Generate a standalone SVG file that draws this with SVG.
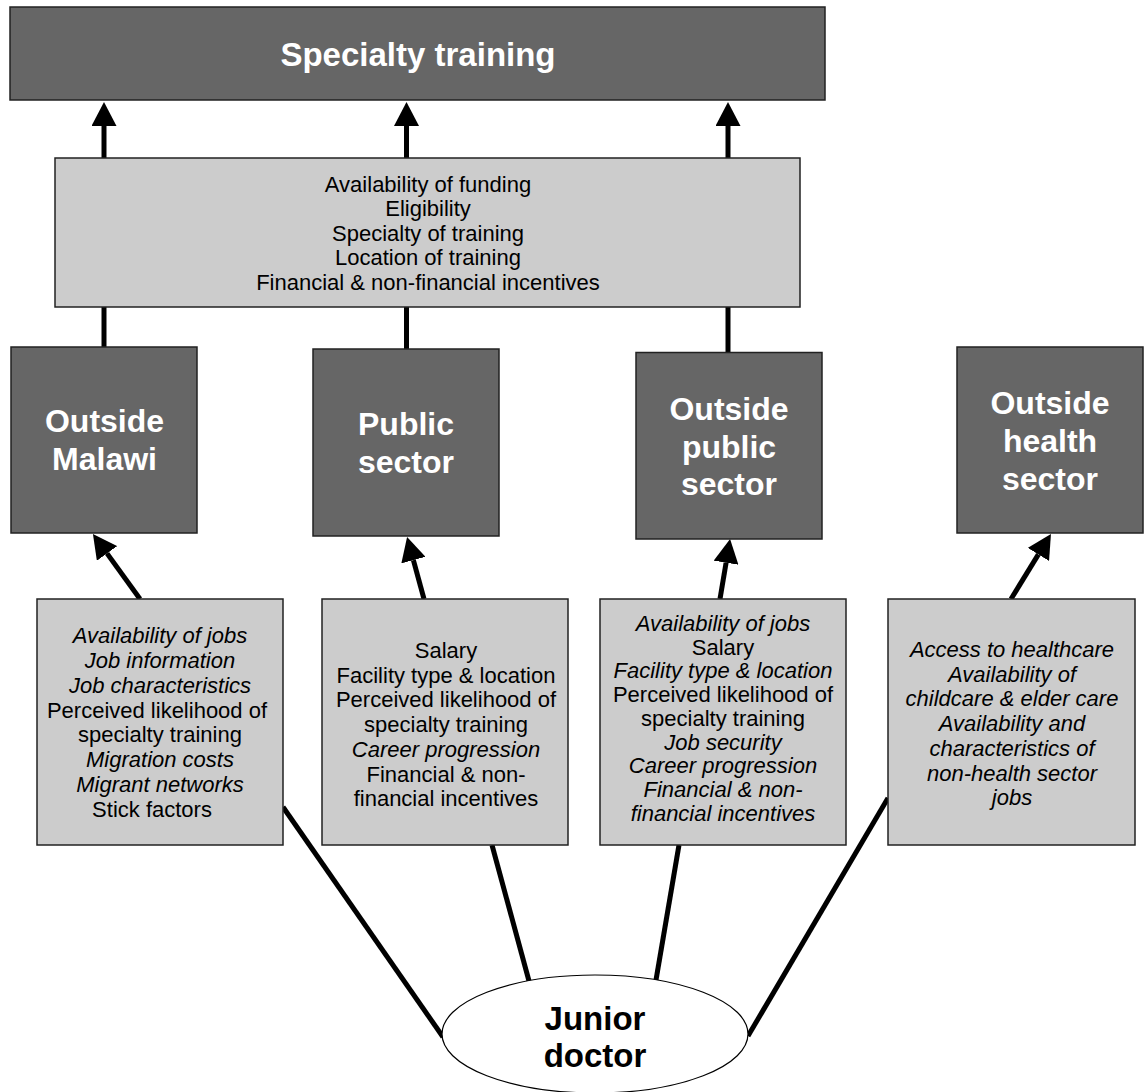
<svg xmlns="http://www.w3.org/2000/svg" width="1144" height="1092" viewBox="0 0 1144 1092">
  <style>
    .dark { fill: #666666; stroke: #222222; stroke-width: 1.5; }
    .light { fill: #cccccc; stroke: #222222; stroke-width: 1.5; }
    .oval { fill: #ffffff; stroke: #000000; stroke-width: 1.2; }
    .head { font-family: "Liberation Sans", Arial, sans-serif; font-weight: bold; font-size: 32px; fill: #ffffff; text-anchor: middle; }
    .title { font-family: "Liberation Sans", Arial, sans-serif; font-weight: bold; font-size: 33px; fill: #ffffff; text-anchor: middle; }
    .root { font-family: "Liberation Sans", Arial, sans-serif; font-weight: bold; font-size: 33px; fill: #000000; text-anchor: middle; }
    .body { font-family: "Liberation Sans", Arial, sans-serif; font-size: 22px; fill: #000000; text-anchor: middle; }
    .it { font-style: italic; }
    .wire { stroke: #000000; stroke-width: 5; fill: none; }
  </style>
  <defs>
    <marker id="tip" markerUnits="userSpaceOnUse" viewBox="0 0 24 25" markerWidth="24" markerHeight="25" refX="0" refY="12.5" orient="auto">
      <path d="M0,0 L24,12.5 L0,25 Z" fill="#000000"/>
    </marker>
  </defs>

  <!-- connectors -->
  <g id="connectors">
    <!-- factor box to specialty training -->
    <line class="wire" x1="104" y1="158" x2="104" y2="126" marker-end="url(#tip)"/>
    <line class="wire" x1="406.5" y1="158" x2="406.5" y2="126" marker-end="url(#tip)"/>
    <line class="wire" x1="728" y1="158" x2="728" y2="126" marker-end="url(#tip)"/>
    <!-- destinations to factor box -->
    <line class="wire" x1="104" y1="307" x2="104" y2="347"/>
    <line class="wire" x1="406.5" y1="307" x2="406.5" y2="349"/>
    <line class="wire" x1="728" y1="307" x2="728" y2="352"/>
    <!-- determinant boxes to destinations -->
    <line class="wire" x1="140" y1="599" x2="107" y2="553.4" marker-end="url(#tip)"/>
    <line class="wire" x1="424" y1="599" x2="413.4" y2="560.1" marker-end="url(#tip)"/>
    <line class="wire" x1="720" y1="599" x2="726.1" y2="562.7" marker-end="url(#tip)"/>
    <line class="wire" x1="1011" y1="599" x2="1038.4" y2="554.4" marker-end="url(#tip)"/>
    <!-- junior doctor to determinant boxes -->
    <line class="wire" x1="443" y1="1037" x2="283" y2="807"/>
    <line class="wire" x1="529" y1="981" x2="492" y2="845"/>
    <line class="wire" x1="656" y1="980" x2="679" y2="845"/>
    <line class="wire" x1="748" y1="1036" x2="888" y2="798"/>
  </g>

  <g id="specialty-training">
    <rect class="dark" x="10" y="7" width="815" height="93"/>
    <text class="title" x="418" y="66">Specialty training</text>
  </g>

  <g id="training-factors">
    <rect class="light" x="55" y="158" width="745" height="149"/>
    <text class="body" x="428" y="191.5">Availability of funding</text>
    <text class="body" x="428" y="216">Eligibility</text>
    <text class="body" x="428" y="240.5">Specialty of training</text>
    <text class="body" x="428" y="265">Location of training</text>
    <text class="body" x="428" y="289.5">Financial &amp; non-financial incentives</text>
  </g>

  <g id="outside-malawi">
    <rect class="dark" x="11" y="347" width="186" height="186"/>
    <text class="head" x="104.5" y="432">Outside</text>
    <text class="head" x="104.5" y="470">Malawi</text>
  </g>

  <g id="public-sector">
    <rect class="dark" x="313" y="349" width="186" height="187"/>
    <text class="head" x="406" y="435">Public</text>
    <text class="head" x="406" y="473">sector</text>
  </g>

  <g id="outside-public-sector">
    <rect class="dark" x="636" y="352.5" width="186" height="186.5"/>
    <text class="head" x="729" y="420">Outside</text>
    <text class="head" x="729" y="458">public</text>
    <text class="head" x="729" y="495">sector</text>
  </g>

  <g id="outside-health-sector">
    <rect class="dark" x="957" y="347" width="186" height="186"/>
    <text class="head" x="1050" y="414">Outside</text>
    <text class="head" x="1050" y="452">health</text>
    <text class="head" x="1050" y="490">sector</text>
  </g>

  <g id="factors-outside-malawi">
    <rect class="light" x="37" y="599" width="246" height="246"/>
    <text class="body it" x="160" y="643">Availability of jobs</text>
    <text class="body it" x="160" y="667.9">Job information</text>
    <text class="body it" x="160" y="692.7">Job characteristics</text>
    <text class="body" x="157" y="717.6">Perceived likelihood of</text>
    <text class="body" x="160" y="742.4">specialty training</text>
    <text class="body it" x="160" y="767.3">Migration costs</text>
    <text class="body it" x="160" y="792.1">Migrant networks</text>
    <text class="body" x="152" y="817">Stick factors</text>
  </g>

  <g id="factors-public-sector">
    <rect class="light" x="322" y="599" width="246" height="246"/>
    <text class="body" x="446" y="658">Salary</text>
    <text class="body" x="446" y="682.7">Facility type &amp; location</text>
    <text class="body" x="446" y="707.4">Perceived likelihood of</text>
    <text class="body" x="446" y="732.1">specialty training</text>
    <text class="body it" x="446" y="756.8">Career progression</text>
    <text class="body" x="446" y="781.5">Financial &amp; non-</text>
    <text class="body" x="446" y="806.2">financial incentives</text>
  </g>

  <g id="factors-outside-public-sector">
    <rect class="light" x="600" y="599" width="246" height="246"/>
    <text class="body it" x="723" y="631">Availability of jobs</text>
    <text class="body" x="723" y="654.7">Salary</text>
    <text class="body it" x="723" y="678.4">Facility type &amp; location</text>
    <text class="body" x="723" y="702.1">Perceived likelihood of</text>
    <text class="body" x="723" y="725.8">specialty training</text>
    <text class="body it" x="723" y="749.5">Job security</text>
    <text class="body it" x="723" y="773.2">Career progression</text>
    <text class="body it" x="723" y="796.9">Financial &amp; non-</text>
    <text class="body it" x="723" y="820.6">financial incentives</text>
  </g>

  <g id="factors-outside-health-sector">
    <rect class="light" x="888" y="599" width="247" height="246"/>
    <text class="body it" x="1012" y="657">Access to healthcare</text>
    <text class="body it" x="1012" y="681.7">Availability of</text>
    <text class="body it" x="1012" y="706.4">childcare &amp; elder care</text>
    <text class="body it" x="1012" y="731">Availability and</text>
    <text class="body it" x="1012" y="755.8">characteristics of</text>
    <text class="body it" x="1012" y="780.5">non-health sector</text>
    <text class="body it" x="1012" y="805.2">jobs</text>
  </g>

  <g id="junior-doctor">
    <ellipse class="oval" cx="595" cy="1034" rx="153" ry="59"/>
    <text class="root" x="595" y="1030">Junior</text>
    <text class="root" x="595" y="1067">doctor</text>
  </g>
</svg>
